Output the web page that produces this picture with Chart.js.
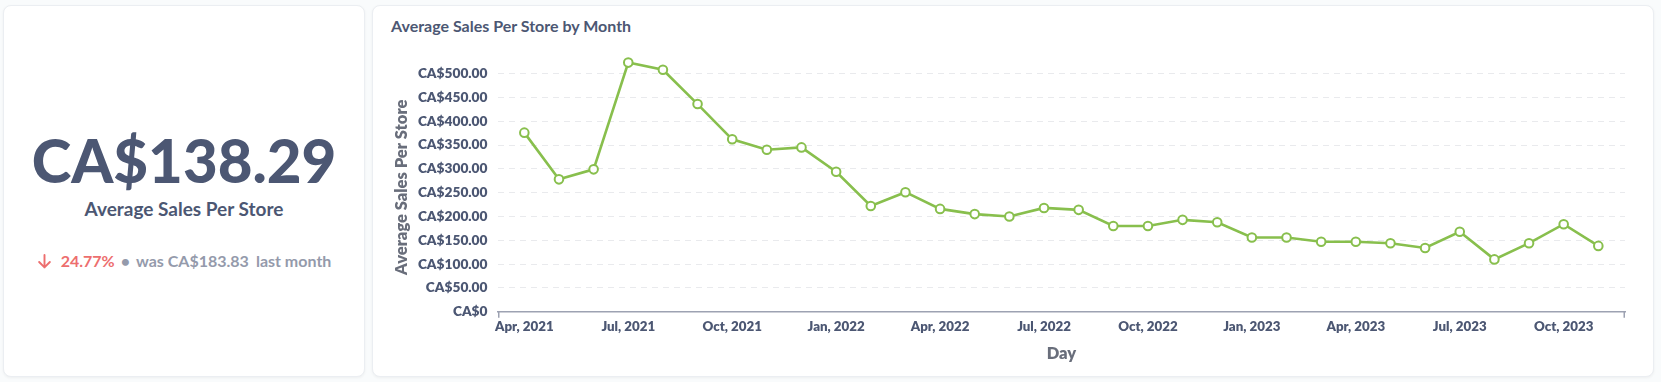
<!DOCTYPE html>
<html>
<head>
<meta charset="utf-8">
<script src="https://cdn.jsdelivr.net/npm/chart.js@4.4.1/dist/chart.umd.min.js"></script>
<style>
  html,body{margin:0;padding:0;}
  body{width:1661px;height:382px;background:#f9fbfc;font-family:Lato,'Noto Sans',sans-serif;position:relative;overflow:hidden;}
  .card{position:absolute;background:#fff;border:1px solid #ebeef2;border-radius:8px;box-shadow:0 1px 3px rgba(0,0,0,0.05);box-sizing:border-box;}
  .scalar{left:3px;top:5px;width:362px;height:372px;}
  .chartcard{left:372px;top:5px;width:1282px;height:372px;}
  .bignum{position:absolute;left:3px;width:362px;top:130px;text-align:center;font-size:60px;line-height:60px;font-weight:900;color:#4c5773;}
  .sub{position:absolute;left:3px;width:362px;top:199px;text-align:center;font-size:19px;line-height:19px;font-weight:700;color:#4c5773;}
  .cmp{position:absolute;left:3px;width:362px;top:253px;display:flex;justify-content:center;align-items:center;font-size:16px;line-height:16px;font-weight:700;color:#949aab;}
  .cmp .pct{color:#ed6e6e;margin-left:9px;}
  .cmp .dot{margin:0 6px;}
  .cmp .last{margin-left:7px;}
  .ctitle{position:absolute;left:391px;top:18px;font-size:16px;line-height:16px;font-weight:700;color:#4c5773;}
  #wrap{position:absolute;left:380px;top:40px;width:1260px;height:328px;}
</style>
</head>
<body>
<div class="card scalar"></div>
<div class="card chartcard"></div>

<div class="bignum">CA$138.29</div>
<div class="sub">Average Sales Per Store</div>
<div class="cmp">
  <svg width="15" height="15" viewBox="0 0 14 14"><path d="M7 1 L7 12.5 M2 7.5 L7 12.5 L12 7.5" stroke="#ed6e6e" stroke-width="1.8" fill="none" stroke-linecap="round" stroke-linejoin="round"/></svg>
  <span class="pct">24.77%</span><span class="dot">•</span><span>was CA$183.83</span><span class="last">last month</span>
</div>

<div class="ctitle">Average Sales Per Store by Month</div>
<div id="wrap"><canvas id="myChart" width="1260" height="328"></canvas></div>

<script>
// 월별 데이터 (Apr 2021 ~ Nov 2023)
const months = ['Apr, 2021','May, 2021','Jun, 2021','Jul, 2021','Aug, 2021','Sep, 2021','Oct, 2021','Nov, 2021','Dec, 2021',
  'Jan, 2022','Feb, 2022','Mar, 2022','Apr, 2022','May, 2022','Jun, 2022','Jul, 2022','Aug, 2022','Sep, 2022','Oct, 2022','Nov, 2022','Dec, 2022',
  'Jan, 2023','Feb, 2023','Mar, 2023','Apr, 2023','May, 2023','Jun, 2023','Jul, 2023','Aug, 2023','Sep, 2023','Oct, 2023','Nov, 2023'];
const avgSales = [376, 278, 299, 523, 508, 436, 362, 340, 345,
  294, 222, 251, 216, 205, 200, 218, 214, 180, 180, 193, 188,
  156, 156, 147, 147, 144, 134, 168, 110, 144, 183.83, 138.29];
const xTickLabels = ['Apr, 2021','Jul, 2021','Oct, 2021','Jan, 2022','Apr, 2022','Jul, 2022','Oct, 2022','Jan, 2023','Apr, 2023','Jul, 2023','Oct, 2023'];
const yTickValues = [0, 50, 100, 150, 200, 250, 300, 350, 400, 450, 500];

const ctx = document.getElementById('myChart');
Chart.defaults.font.family = 'Lato';

const axisColor = '#9da2b2';

// x축 양 끝 작은 눈금
const endTicks = {
  id: 'endTicks',
  afterDraw(chart){
    const a = chart.chartArea, c = chart.ctx;
    c.save();
    c.strokeStyle = axisColor; c.lineWidth = 1.5;
    c.beginPath();
    c.moveTo(a.left + 0.75, a.bottom); c.lineTo(a.left + 0.75, a.bottom + 6);
    c.moveTo(a.right - 0.75, a.bottom); c.lineTo(a.right - 0.75, a.bottom + 6);
    c.stroke();
    c.restore();
  }
};

new Chart(ctx, {
  type: 'line',
  data: {
    datasets: [{
      data: avgSales.map((v, i) => ({x: i, y: v})),
      borderColor: '#88bf4d',
      borderWidth: 2.6,
      pointRadius: 4.3,
      pointBorderWidth: 2,
      pointBackgroundColor: '#fff',
      pointBorderColor: '#88bf4d',
      tension: 0,
      clip: false
    }]
  },
  options: {
    responsive: false,
    animation: false,
    layout: {padding: {top: 22.6, right: 15, left: 0, bottom: 0}},
    plugins: {legend: {display: false}, tooltip: {enabled: false}},
    scales: {
      x: {
        type: 'linear',
        min: -0.76,
        max: 31.77,
        afterBuildTicks: (s) => { s.ticks = xTickLabels.map(l => ({value: months.indexOf(l)})); },
        afterFit: (s) => { s.height = 56.2; },
        ticks: {
          autoSkip: false, maxRotation: 0, padding: 7,
          color: '#4c5773', font: {size: 13.3, weight: 800},
          callback: (v) => months[v]
        },
        grid: {display: false, drawTicks: false},
        border: {display: true, color: axisColor, width: 1.5},
        title: {display: true, text: 'Day', color: '#696e7b', font: {size: 16.5, weight: 800}, padding: {top: 0, bottom: 4}}
      },
      y: {
        min: 0,
        max: Math.max(...avgSales),
        afterBuildTicks: (s) => { s.ticks = yTickValues.map(v => ({value: v})); },
        afterFit: (s) => { s.width = 118; },
        ticks: {
          padding: 10.5,
          color: '#4c5773', font: {size: 13.7, weight: 800},
          callback: (v) => v === 0 ? 'CA$0' : 'CA$' + v.toFixed(2)
        },
        grid: {color: '#e9eaed', drawTicks: false, lineWidth: 1},
        border: {display: false, dash: [6, 5]},
        title: {display: true, text: 'Average Sales Per Store', color: '#696e7b', font: {size: 16.5, weight: 800}, padding: {top: 11.8, bottom: 0}}
      }
    }
  },
  plugins: [endTicks]
});
</script>
</body>
</html>
